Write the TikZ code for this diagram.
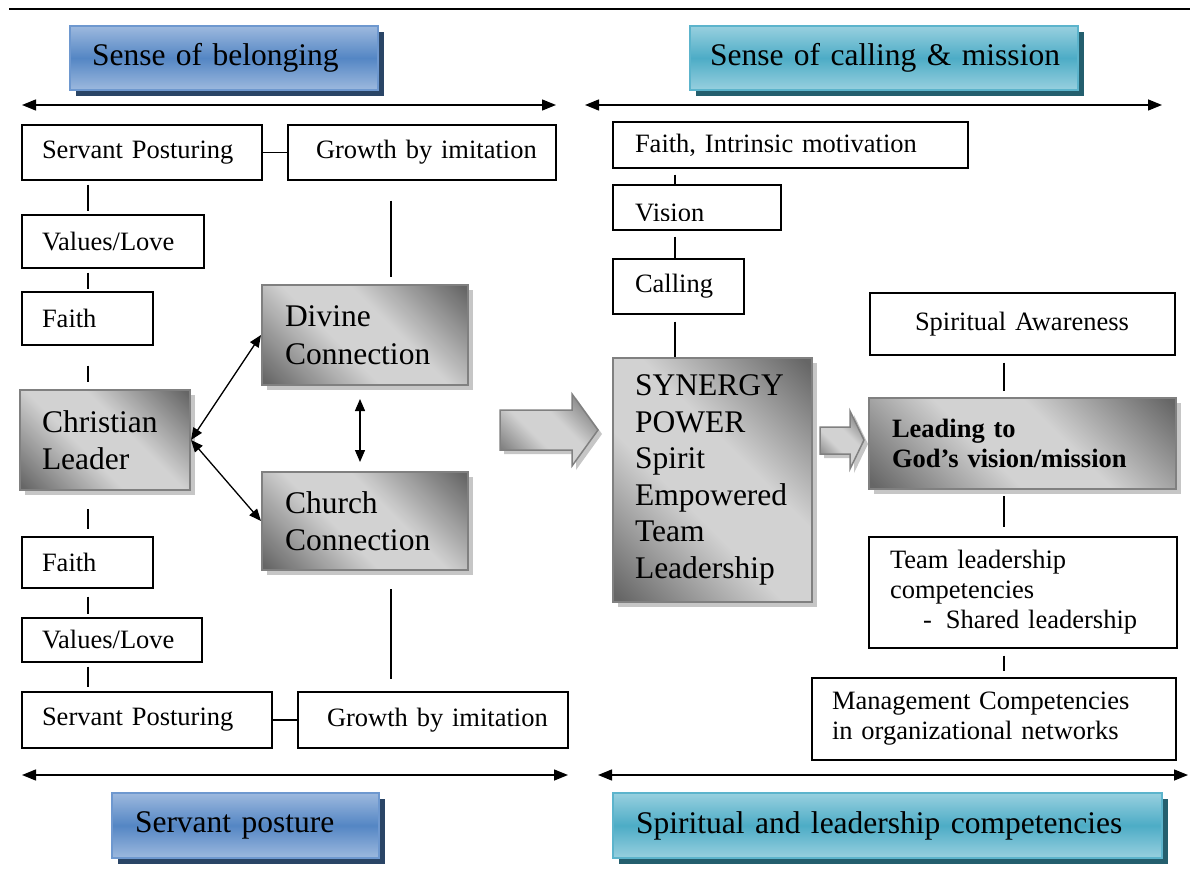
\documentclass[tikz,border=0pt]{standalone}
\usepackage{fontspec}
\setmainfont{Liberation Serif}
\usetikzlibrary{arrows.meta,shadows,calc}
\definecolor{gdark}{HTML}{666666}
\definecolor{glight}{HTML}{D2D2D2}
\definecolor{gline}{HTML}{808080}
\definecolor{gshadow}{HTML}{C6C6C6}
\definecolor{blight}{HTML}{9DB9DE}
\definecolor{bmid}{HTML}{5486C4}
\definecolor{bline}{HTML}{6E98CF}
\definecolor{bshadow}{HTML}{2A4566}
\definecolor{tlight}{HTML}{98D0DF}
\definecolor{tmid}{HTML}{4DACC6}
\definecolor{tline}{HTML}{5CB4CC}
\definecolor{tshadow}{HTML}{245F6E}
% diagonal grey fill: dark corners fading into a broad light band
\pgfdeclareverticalshading{greydiag}{100bp}{color(0bp)=(gdark); color(16bp)=(gdark); color(42bp)=(glight); color(58bp)=(glight); color(84bp)=(gdark); color(100bp)=(gdark)}
\newcommand\fsm{\fontsize{26.5}{30}\selectfont}
\newcommand\fbg{\fontsize{31.5}{37.5}\selectfont}
\newcommand\fhd{\fontsize{31.5}{36}\selectfont}
\begin{document}
\begin{tikzpicture}[x=1pt,y=-1pt,
  wbox/.style={draw, line width=1.3pt, fill=white, font=\fsm, align=left, inner ysep=0pt},
  gbox/.style={draw=gline, line width=2pt, shading=greydiag, shading angle=-45,
    drop shadow={shadow xshift=5pt, shadow yshift=-5pt, fill=gshadow, opacity=1},
    font=\fbg, align=left, inner ysep=0pt},
  bhead/.style={draw=bline, line width=1.5pt, top color=blight, bottom color=blight,
    middle color=bmid, font=\fhd, align=left, inner ysep=0pt,
    drop shadow={shadow xshift=6pt, shadow yshift=-6pt, fill=bshadow, opacity=1}},
  thead/.style={draw=tline, line width=1.5pt, top color=tlight, bottom color=tlight,
    middle color=tmid, font=\fhd, align=left, inner ysep=0pt,
    drop shadow={shadow xshift=6pt, shadow yshift=-6pt, fill=tshadow, opacity=1}},
  conn/.style={line width=1.3pt},
  dblarr/.style={line width=1.4pt, {Triangle[length=14pt,width=11pt]}-{Triangle[length=14pt,width=11pt]}},
  linkarr/.style={line width=1.3pt, {Triangle[length=12pt,width=10pt]}-{Triangle[length=12pt,width=10pt]}},
  blockarr/.style={draw=gline, line width=1.5pt, shading=greydiag, shading angle=-45,
    drop shadow={shadow xshift=4pt, shadow yshift=-4pt, fill=gshadow, opacity=1}}
]
\useasboundingbox (0,0) rectangle (1190,882);

% rule across the top
\coordinate (rl) at (9,9);
\coordinate (rr) at (1190,9);
\draw[line width=2.5pt] (rl) -- (rr);

% headings
\node[bhead, minimum width=308pt, minimum height=64pt, inner xsep=22pt, text width=264pt] (h1) at (224,58) {\mbox{Sense of belonging}};
\node[thead, minimum width=388pt, minimum height=64pt, inner xsep=20pt, text width=348pt] (h2) at (884,58) {\mbox{Sense of calling \& mission}};
\node[bhead, minimum width=267pt, minimum height=65pt, inner xsep=23pt, text width=221pt] (h3) at (245.5,825.5) {\mbox{Servant posture}};
\node[thead, minimum width=549pt, minimum height=65pt, inner xsep=23pt, text width=503pt] (h4) at (887.5,825.5) {\mbox{Spiritual and leadership competencies}};

% span arrows
\coordinate (ta1) at (22,105);  \coordinate (ta2) at (556,105);
\coordinate (ta3) at (585,105); \coordinate (ta4) at (1162,105);
\coordinate (ba1) at (22,775);  \coordinate (ba2) at (568,775);
\coordinate (ba3) at (598,775); \coordinate (ba4) at (1188,775);
\draw[dblarr] (ta1) -- (ta2);
\draw[dblarr] (ta3) -- (ta4);
\draw[dblarr] (ba1) -- (ba2);
\draw[dblarr] (ba3) -- (ba4);

% left half
\node[wbox, minimum width=240pt, minimum height=55pt, inner xsep=20pt, text width=200pt] (sp1) at (142,152.5) {\mbox{Servant Posturing}};
\node[wbox, minimum width=268pt, minimum height=55pt, inner xsep=28pt, text width=212pt] (gi1) at (422,152.5) {\mbox{Growth by imitation}};
\node[wbox, minimum width=182pt, minimum height=53pt, inner xsep=20pt, text width=142pt] (vl1) at (113,241.5) {Values/Love};
\node[wbox, minimum width=131pt, minimum height=53pt, inner xsep=20pt, text width=91pt] (fa1) at (87.5,318.5) {Faith};
\node[gbox, minimum width=170pt, minimum height=100pt, inner xsep=22pt, text width=126pt] (cl) at (105,440) {Christian\\Leader};
\node[wbox, minimum width=131pt, minimum height=51pt, inner xsep=20pt, text width=91pt] (fa2) at (87.5,562.5) {Faith};
\node[wbox, minimum width=180pt, minimum height=44pt, inner xsep=20pt, text width=140pt] (vl2) at (112,640) {Values/Love};
\node[wbox, minimum width=250pt, minimum height=56pt, inner xsep=20pt, text width=210pt] (sp2) at (147,720) {\mbox{Servant Posturing}};
\node[wbox, minimum width=270pt, minimum height=56pt, inner xsep=29pt, text width=212pt] (gi2) at (433,720) {\mbox{Growth by imitation}};
\node[gbox, minimum width=206pt, minimum height=100pt, inner xsep=23pt, text width=160pt] (dc) at (365,335) {Divine\\Connection};
\node[gbox, minimum width=206pt, minimum height=98pt, inner xsep=23pt, text width=160pt] (cc) at (365,521) {Church\\Connection};

\coordinate (lx) at (88,0);
\coordinate (mx) at (391,0);
\draw[conn] (sp1) -- (gi1);
\draw[conn] (sp2) -- (gi2);
\draw[conn, shorten <=4pt, shorten >=3pt] (sp1.south -| lx) -- (vl1.north -| lx);
\draw[conn, shorten <=4pt, shorten >=2pt] (vl1.south -| lx) -- (fa1.north -| lx);
\draw[conn, shorten <=20pt, shorten >=7pt] (fa1.south -| lx) -- (cl.north -| lx);
\draw[conn, shorten <=18pt, shorten >=7pt] (cl.south -| lx) -- (fa2.north -| lx);
\draw[conn, shorten <=8pt, shorten >=3pt] (fa2.south -| lx) -- (vl2.north -| lx);
\draw[conn, shorten <=4pt, shorten >=4pt] (vl2.south -| lx) -- (sp2.north -| lx);
\draw[conn, shorten <=20pt, shorten >=7pt] (gi1.south -| mx) -- (dc.north -| mx);
\draw[conn, shorten <=18pt, shorten >=12pt] (cc.south -| mx) -- (gi2.north -| mx);

\draw[linkarr] (cl.east) -- (dc.west);
\draw[linkarr] (cl.east) -- (cc.west);
\draw[linkarr, shorten <=13pt, shorten >=9pt] ([xshift=-5pt]dc.south) -- ([xshift=-5pt]cc.north);

% block arrows
\path[blockarr] (500,410) -- (572,410) -- (572,394) -- (598,430) -- (572,466) -- (572,450) -- (500,450) -- cycle;
\path[blockarr] (820,427) -- (850,427) -- (850,411) -- (864,440) -- (850,469) -- (850,454) -- (820,454) -- cycle;

% right half
\node[wbox, minimum width=355pt, minimum height=46pt, inner xsep=22pt, text width=311pt] (fim) at (790.5,145) {\mbox{Faith, Intrinsic motivation}};
\node[wbox, minimum width=168pt, minimum height=45pt] (vis) at (697,207.5) {};
\begin{scope}
  \clip (613,185) rectangle (781,220.5);
  \node[font=\fsm, anchor=base west, inner sep=0pt] (vistext) at (635,221.5) {Vision};
\end{scope}
\node[wbox, minimum width=131pt, minimum height=55pt, inner xsep=22pt, text width=87pt] (cal) at (678.5,286.5) {Calling};
\node[gbox, minimum width=199pt, minimum height=244pt, inner xsep=22pt, text width=155pt, font=\fontsize{31.5}{36.6}\selectfont] (syn) at (712.5,480) {SYNERGY\\POWER\\Spirit\\\mbox{Empowered}\\Team\\Leadership};
\node[wbox, minimum width=305pt, minimum height=62pt, inner xsep=45pt, text width=215pt] (spa) at (1022.5,324) {\mbox{Spiritual Awareness}};
\node[gbox, minimum width=307pt, minimum height=91pt, inner xsep=23pt, text width=261pt, font=\fsm\bfseries] (ldg) at (1022.5,443.5) {Leading to\\\mbox{God’s vision/mission}};
\node[wbox, minimum width=308pt, minimum height=111pt, inner xsep=21pt, text width=266pt] (tlc) at (1023,592.5) {Team leadership\\competencies\\\mbox{\hspace*{33pt}-\hspace*{14pt}Shared leadership}};
\node[wbox, minimum width=364pt, minimum height=82pt, inner xsep=20pt, text width=324pt] (mgc) at (994,719) {\mbox{Management Competencies}\\\mbox{in organizational networks}};

\coordinate (rx) at (675,0);
\coordinate (fx) at (1004,0);
\draw[conn, shorten <=6pt] (fim.south -| rx) -- (vis.north -| rx);
\draw[conn, shorten <=6pt] (vis.south -| rx) -- (cal.north -| rx);
\draw[conn, shorten <=7pt] (cal.south -| rx) -- (syn.north -| rx);
\draw[conn, shorten <=7pt, shorten >=6pt] (spa.south -| fx) -- (ldg.north -| fx);
\draw[conn, shorten <=6pt, shorten >=9pt] (ldg.south -| fx) -- (tlc.north -| fx);
\draw[conn, shorten <=7pt, shorten >=6pt] (tlc.south -| fx) -- (mgc.north -| fx);
\end{tikzpicture}
\end{document}
